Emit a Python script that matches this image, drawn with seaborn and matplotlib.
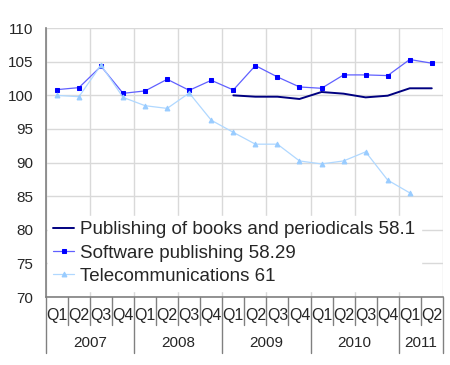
import numpy as np
import pandas as pd
import matplotlib
matplotlib.use("Agg")
import matplotlib.pyplot as plt
import matplotlib.transforms as mtransforms
import seaborn as sns

quarters = ["Q1", "Q2", "Q3", "Q4"] * 4 + ["Q1", "Q2"]
years = ["2007", "2008", "2009", "2010", "2011"]
year_lengths = [4, 4, 4, 4, 2]

nan = np.nan
books = [nan, nan, nan, nan, nan, nan, nan, nan,
         100.0, 99.8, 99.8, 99.46, 100.5, 100.25, 99.7, 99.95, 101.05, 101.05]
software = [100.85, 101.15, 104.33, 100.3, 100.66, 102.39, 100.75, 102.24, 100.8,
            104.43, 102.74, 101.25, 101.05, 103.04, 103.04, 102.94, 105.33, 104.78]
telecom = [100.0, 99.8, 104.5, 99.7, 98.46, 98.06, 100.35, 96.3, 94.5,
           92.74, 92.74, 90.25, 89.8, 90.25, 91.6, 87.4, 85.5, nan]

labels = ["Publishing of books and periodicals 58.1",
          "Software publishing 58.29",
          "Telecommunications 61"]

sns.set_style("white")
plt.rcParams["font.family"] = ["Liberation Sans", "DejaVu Sans"]

fig = plt.figure(figsize=(4.5, 3.65), dpi=100)
ax = fig.add_axes([0.102, 0.186, 0.882, 0.737])

x = np.arange(len(quarters))
df = pd.DataFrame({"x": x, "books": books, "software": software, "telecom": telecom})

sns.lineplot(data=df, x="x", y="books", ax=ax, color="#000080", lw=1.4,
             label=labels[0])
sns.lineplot(data=df, x="x", y="software", ax=ax, color="#6060ff", lw=0.9,
             marker="s", markersize=3.3, markerfacecolor="#0000ff",
             markeredgecolor="#0000ff", label=labels[1])
sns.lineplot(data=df, x="x", y="telecom", ax=ax, color="#b0d8ff", lw=0.9,
             marker="^", markersize=3.5, markerfacecolor="#99ccff",
             markeredgecolor="#99ccff", label=labels[2])

ax.set_xlim(-0.5, len(quarters) - 0.5)
ax.set_ylim(70, 110)
ax.set_yticks(range(70, 111, 5))
ax.tick_params(axis="y", labelsize=11, length=4, color="#808080", pad=5)
ax.grid(axis="y", color="#d9d9d9", lw=1)
for b in np.arange(-0.5, len(quarters), 2):
    ax.axvline(b, color="#d9d9d9", lw=1, zorder=0)

ax.set_xticks(x, labels=quarters)
ax.tick_params(axis="x", labelsize=11.5, length=0, pad=8)
ax.set_xlabel("")
ax.set_ylabel("")

for s in ["top", "right"]:
    ax.spines[s].set_visible(False)
for s in ["left", "bottom"]:
    ax.spines[s].set_color("#808080")
    ax.spines[s].set_linewidth(1.2)

trans = mtransforms.blended_transform_factory(ax.transData, ax.transAxes)
boundaries = [-0.5]
for n in year_lengths:
    boundaries.append(boundaries[-1] + n)
for b in np.arange(-0.5, len(quarters), 1):
    is_year = any(abs(b - yb) < 1e-6 for yb in boundaries)
    ax.plot([b, b], [0, -0.208 if is_year else -0.104], transform=trans,
            color="#808080", lw=1, clip_on=False)
for i, yr in enumerate(years):
    c = (boundaries[i] + boundaries[i + 1]) / 2
    ax.text(c, -0.171, yr, transform=trans, ha="center", va="center", fontsize=11)

leg = ax.legend(loc="lower left", bbox_to_anchor=(-0.005, 0.01), frameon=True,
                fontsize=13.5, handlelength=1.1, handletextpad=0.35,
                labelspacing=0.33, borderaxespad=0.2, borderpad=0.3)
leg.get_frame().set_facecolor("white")
leg.get_frame().set_edgecolor("white")
leg.get_frame().set_alpha(1)

fig.savefig("out.png", dpi=100)
